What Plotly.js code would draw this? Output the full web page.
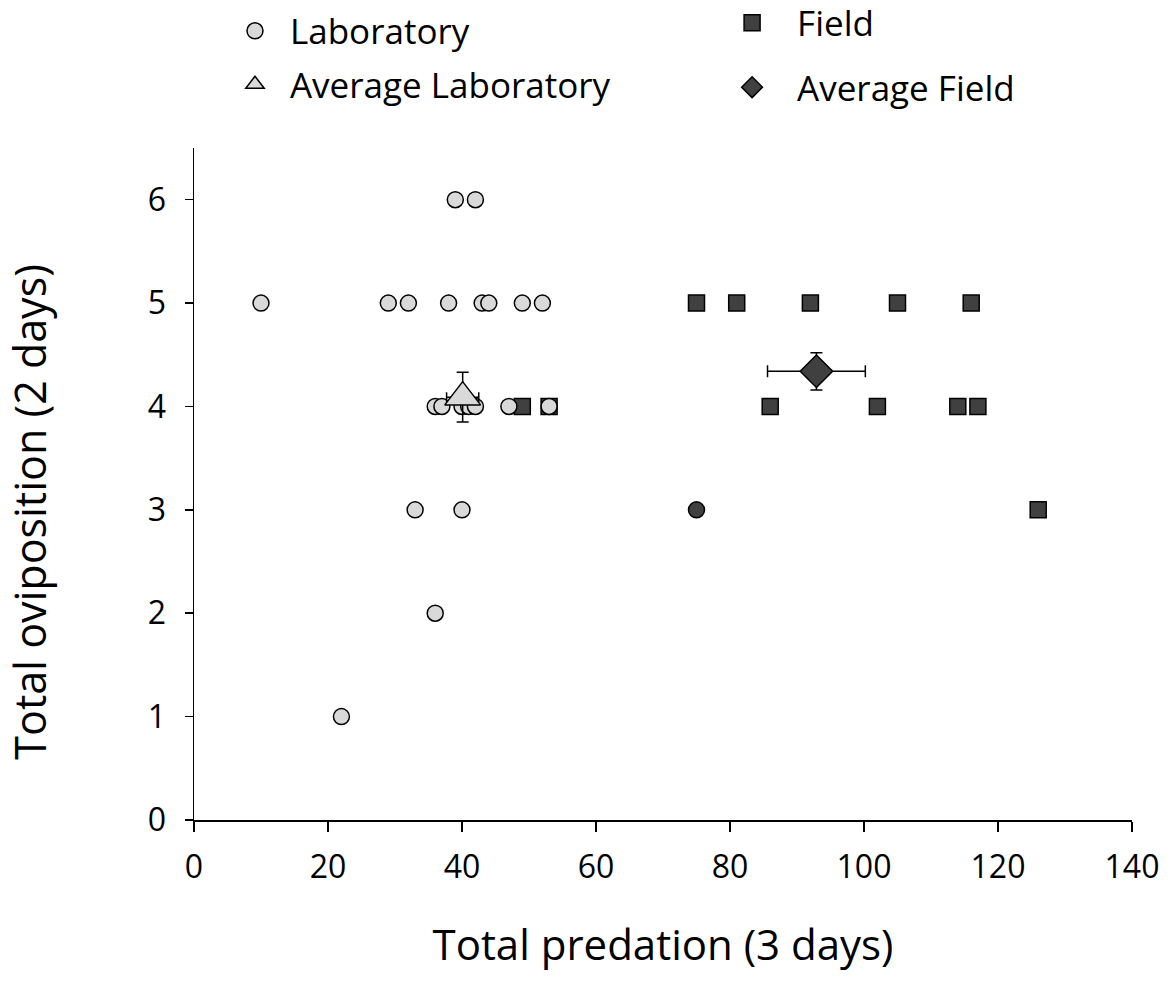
<!DOCTYPE html>
<html>
<head>
<meta charset="utf-8">
<script src="https://cdn.plot.ly/plotly-3.0.1.min.js"></script>
<style>html,body{margin:0;padding:0;background:#fff;}#chart{width:1174px;height:1000px;}</style>
</head>
<body>
<div id="chart"></div>
<script>
// Laboratory individuals
const labX = [39, 42, 10, 29, 32, 38, 43, 44, 49, 52, 36, 37, 40, 41, 42, 47, 53, 33, 40, 36, 22];
const labY = [6, 6, 5, 5, 5, 5, 5, 5, 5, 5, 4, 4, 4, 4, 4, 4, 4, 3, 3, 2, 1];
// Field individuals
const fieldX = [75, 81, 92, 105, 116, 49, 53, 86, 102, 114, 117, 126];
const fieldY = [5, 5, 5, 5, 5, 4, 4, 4, 4, 4, 4, 3];
// Dark circle point
const fieldCircleX = [75];
const fieldCircleY = [3];
// Averages with standard errors
const avgLabX = [40.1];
const avgLabY = [4.09];
const avgLabErrX = [2.4];
const avgLabErrY = [0.24];
const avgFieldX = [92.9];
const avgFieldY = [4.34];
const avgFieldErrX = [7.3];
const avgFieldErrY = [0.18];
// Axis ticks
const xTicks = [0, 20, 40, 60, 80, 100, 120, 140];
const yTicks = [0, 1, 2, 3, 4, 5, 6];

const FONT = 'Open Sans, Noto Sans, sans-serif';
const labFill = '#d9d9d9';
const fieldFill = '#404040';
const edge = {color: '#000000', width: 1.5};

const traces = [
  {x: fieldX, y: fieldY, type: 'scatter', mode: 'markers', name: 'Field',
   legend: 'legend2', legendrank: 1, legendgroup: 'f1',
   marker: {symbol: 'square', size: 16, color: fieldFill, line: edge}},
  {x: fieldCircleX, y: fieldCircleY, type: 'scatter', mode: 'markers', name: 'Field circle',
   showlegend: false,
   marker: {symbol: 'circle', size: 16, color: fieldFill, line: edge}},
  {x: labX, y: labY, type: 'scatter', mode: 'markers', name: 'Laboratory',
   legend: 'legend', legendrank: 1, legendgroup: 'l1',
   marker: {symbol: 'circle', size: 16, color: labFill, line: edge}},
  {x: avgLabX, y: avgLabY, type: 'scatter', mode: 'markers', name: 'Average Laboratory',
   legend: 'legend', legendrank: 2, legendgroup: 'l2',
   error_x: {type: 'data', array: avgLabErrX, color: '#000', thickness: 1.5, width: 5},
   error_y: {type: 'data', array: avgLabErrY, color: '#000', thickness: 1.5, width: 6},
   marker: {symbol: 'triangle-up', size: 31, color: labFill, line: edge}},
  {x: avgFieldX, y: avgFieldY, type: 'scatter', mode: 'markers', name: 'Average Field',
   legend: 'legend2', legendrank: 2, legendgroup: 'f2',
   error_x: {type: 'data', array: avgFieldErrX, color: '#000', thickness: 1.5, width: 6},
   error_y: {type: 'data', array: avgFieldErrY, color: '#000', thickness: 1.5, width: 6},
   marker: {symbol: 'diamond', size: 25, color: fieldFill, line: edge}}
];

const layout = {
  width: 1174, height: 1000,
  paper_bgcolor: '#ffffff', plot_bgcolor: '#ffffff',
  margin: {l: 194, r: 42, t: 148, b: 180, autoexpand: false},
  font: {family: FONT, color: '#000000'},
  showlegend: true,
  legend: {x: 0.0277, y: 1.218, xanchor: 'left', yanchor: 'top', orientation: 'v',
           font: {family: FONT, size: 35, color: '#000'}, bgcolor: 'rgba(0,0,0,0)',
           tracegroupgap: 5, itemsizing: 'trace', itemwidth: 60},
  legend2: {x: 0.547, y: 1.23, xanchor: 'left', yanchor: 'top', orientation: 'v',
           font: {family: FONT, size: 35, color: '#000'}, bgcolor: 'rgba(0,0,0,0)',
           tracegroupgap: 16, itemsizing: 'trace', itemwidth: 80},
  xaxis: {
    range: [0, 140], tickvals: xTicks, ticktext: xTicks.map(String),
    showgrid: false, zeroline: false, showline: true, linecolor: '#000', linewidth: 1.5,
    ticks: 'outside', ticklen: 10, tickwidth: 1.5, tickcolor: '#000', ticklabelstandoff: 8,
    tickfont: {family: FONT, size: 32, color: '#000'},
    title: {text: 'Total predation (3 days)', font: {family: FONT, size: 42, color: '#000'}, standoff: 44}
  },
  yaxis: {
    range: [0, 6.5], tickvals: yTicks, ticktext: yTicks.map(String),
    showgrid: false, zeroline: false, showline: true, linecolor: '#000', linewidth: 1.5,
    ticks: 'outside', ticklen: 8, tickwidth: 1.5, tickcolor: '#000', ticklabelstandoff: 12,
    tickfont: {family: FONT, size: 32, color: '#000'},
    title: {text: 'Total oviposition (2 days)\u00a0\u00a0\u00a0\u00a0\u00a0\u200B', font: {family: FONT, size: 43, color: '#000'}, standoff: 88}
  }
};

Plotly.newPlot('chart', traces, layout, {displayModeBar: false, staticPlot: true});
</script>
</body>
</html>
